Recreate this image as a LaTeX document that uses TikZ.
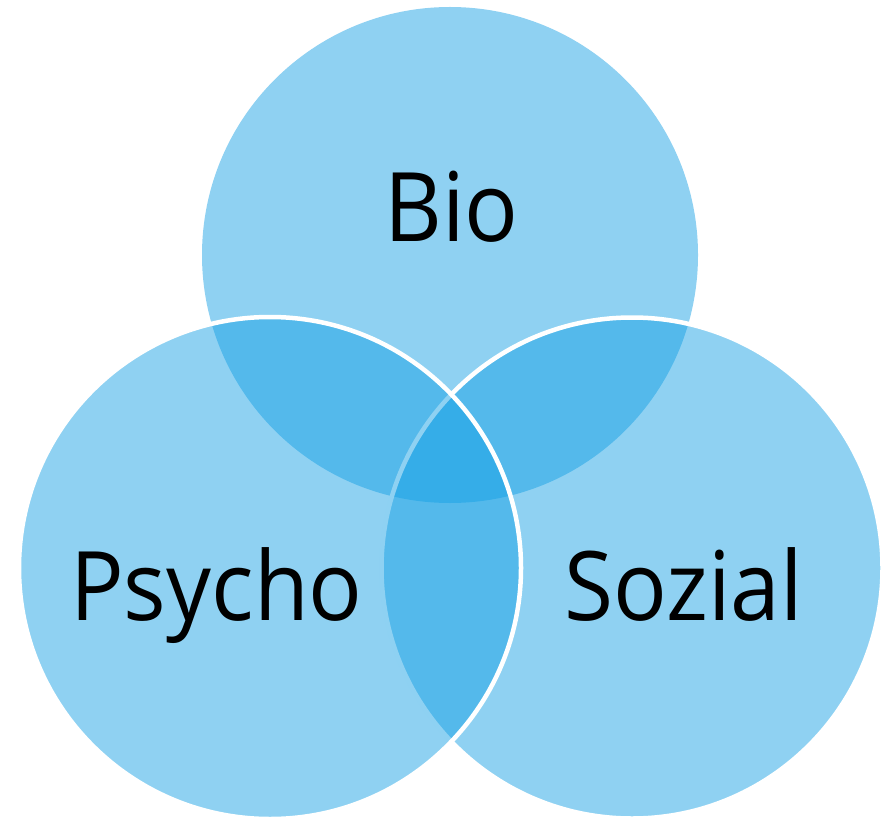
\documentclass[tikz,border=0pt]{standalone}
\usepackage{fontspec}
\setmainfont{Open Sans}
\definecolor{vennblue}{RGB}{20,159,228}
\newcommand{\vennlabel}[1]{\scalebox{0.93}[1]{#1}}
\begin{document}
\begin{tikzpicture}[x=1pt,y=-1pt,
  venn/.style={fill=vennblue,fill opacity=0.48},
  vennrim/.style={venn,draw=white,draw opacity=1,line width=4.5pt},
  lbl/.style={text=black,font=\fontsize{96}{100}\selectfont,anchor=base,inner sep=0pt}]
\useasboundingbox (0,0) rectangle (888,818);
\fill[venn] (450,255) circle (248);
\path[vennrim] (632,568) circle (250.5);
\path[vennrim] (270,568) circle (251);
\node[lbl] (bio) at (451.5,242) {\vennlabel{Bio}};
\node[lbl] (psycho) at (216.5,620) {\vennlabel{Psycho}};
\node[lbl] (sozial) at (683.5,620) {\vennlabel{Sozial}};
\end{tikzpicture}
\end{document}
